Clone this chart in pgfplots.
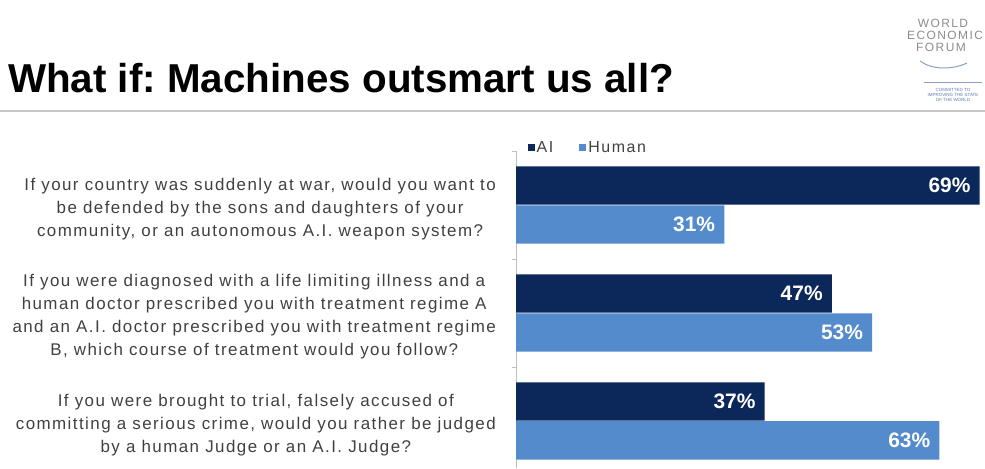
\documentclass[border=0pt]{standalone}
\usepackage{fontspec}
\setmainfont{Liberation Sans}
\usepackage{pgfplots}
\pgfplotsset{compat=1.18}
\definecolor{aicol}{RGB}{12,40,90}
\definecolor{humcol}{RGB}{84,139,204}
\definecolor{txt}{RGB}{64,64,64}
\definecolor{logogray}{RGB}{140,140,140}
\definecolor{logoblue}{RGB}{90,120,170}
\frenchspacing
\begin{document}
\begin{tikzpicture}[x=1bp,y=1bp]
\useasboundingbox (0,0) rectangle (985,469);
\node[anchor=base west, inner sep=0pt, font=\fontsize{40.5}{40.5}\selectfont\bfseries] at (8,376) {What if: Machines outsmart us all?};
\draw[black!22, line width=2.5bp] (0,358) -- (985,358);
% logo
\node[font=\fontsize{12}{12}\selectfont\addfontfeature{LetterSpace=12}, text=logogray, inner sep=0pt] at (943,446) {WORLD};
\node[font=\fontsize{12}{12}\selectfont\addfontfeature{LetterSpace=12}, text=logogray, inner sep=0pt] at (945,434) {ECONOMIC};
\node[font=\fontsize{12}{12}\selectfont\addfontfeature{LetterSpace=12}, text=logogray, inner sep=0pt] at (941,422) {FORUM};
\draw[logoblue!70, line width=1bp] (920,408) .. controls (932,399) and (952,399) .. (967,406);
\draw[logoblue!70, line width=1bp] (924,386) -- (982,386);
\node[font=\fontsize{4.5}{5}\selectfont, text=logoblue, align=center, inner sep=0pt] at (953,374) {COMMITTED TO\\IMPROVING THE STATE\\OF THE WORLD};
\begin{axis}[
  at={(516bp,318bp)}, anchor=north west,
  scale only axis, width=469bp, height=317.5bp,
  xbar, bar width=0.355,
  xmin=0, xmax=69.8, ymin=-0.44, ymax=2.5,
  hide x axis,
  axis y line*=left,
  y axis line style={-, draw=black!25},
  ytick={0,1,2},
  yticklabels={
    {If you were brought to trial, falsely accused of\\committing a serious crime, would you rather be judged\\by a human Judge or an A.I. Judge?},
    {If you were diagnosed with a life limiting illness and a\\human doctor prescribed you with treatment regime A\\and an A.I. doctor prescribed you with treatment regime\\B, which course of treatment would you follow?},
    {If your country was suddenly at war, would you want to\\be defended by the sons and daughters of your\\community, or an autonomous A.I. weapon system?}
  },
  major tick length=0pt,
  minor ytick={-0.5,0.5,1.5,2.5},
  minor tick length=4bp,
  tick align=outside,
  tick style={draw=black!25},
  yticklabel style={align=center, font=\fontsize{17}{23}\selectfont\addfontfeature{LetterSpace=8.5}, text=txt, inner sep=0pt, xshift=-20bp, yshift=-4bp},
  nodes near coords={\pgfmathprintnumber{\pgfplotspointmeta}\%},
  nodes near coords style={anchor=east, text=white, font=\fontsize{21}{21}\selectfont\bfseries, inner sep=0pt, xshift=-9bp},
  /pgf/number format/assume math mode=true,
  legend style={draw=none, fill=none, at={(0.018,1.01)}, anchor=west, legend columns=2, font=\fontsize{16}{16}\selectfont\addfontfeature{LetterSpace=10}, text=txt, /tikz/every even column/.append style={column sep=24bp}},
  legend image code/.code={\fill[#1] (0bp,-3.5bp) rectangle (7bp,3.5bp);},
]
\addplot[fill=aicol, draw=none, bar shift=0.18] coordinates {(69,2) (47,1) (37,0)};
\addplot[fill=humcol, draw=none, bar shift=-0.18] coordinates {(31,2) (53,1) (63,0)};
\legend{AI, Human}
\end{axis}
\end{tikzpicture}
\end{document}
